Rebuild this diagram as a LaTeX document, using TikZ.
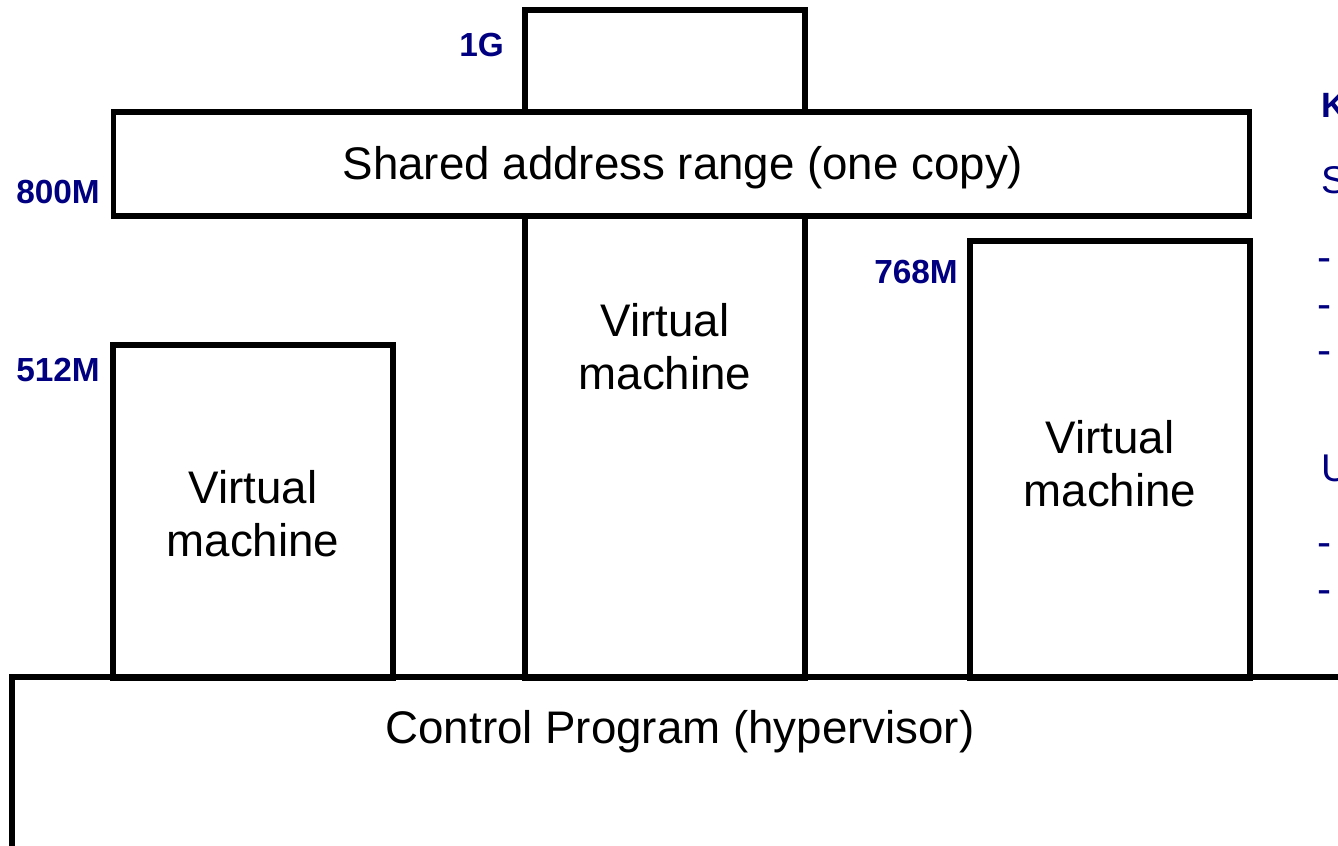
\documentclass[tikz,border=0pt]{standalone}
\usepackage{fontspec}
\setmainfont{Liberation Sans}
\definecolor{navy}{RGB}{0,0,128}
\begin{document}
\begin{tikzpicture}[x=0.02cm,y=-0.02cm,
  box/.style={draw, line width=2.9pt, inner sep=0pt},
  big/.style={font=\fontsize{26}{30}\selectfont, align=center},
  addr/.style={font=\fontsize{19}{22}\selectfont\bfseries, text=navy, anchor=east},
  note/.style={font=\fontsize{22}{26}\selectfont, text=navy, anchor=west, inner sep=0pt}]
\useasboundingbox (0,0) rectangle (1338,845);
\clip (0,0) rectangle (1338,845);

% Control program (runs off the page)
\coordinate (cpr) at (1400,677);
\coordinate (cptl) at (12,677);
\coordinate (cpb) at (12,900);
\draw[line width=2.9pt] (cpr) -- (cptl) -- (cpb);
\node[big] (cp) at (680,732) {Control Program (hypervisor)};

% Memory boxes
\node[box, minimum width=22.74cm, minimum height=2.08cm] (shared) at (681.5,164) {};
\node[box, minimum width=5.6cm, minimum height=2.04cm] (top) at (665,61) {};
\node[box, minimum width=5.6cm, minimum height=9.24cm] (vm2) at (665,447) {};
\node[box, minimum width=5.6cm, minimum height=6.66cm] (vm1) at (253,511.5) {};
\node[box, minimum width=5.6cm, minimum height=8.74cm] (vm3) at (1110,459.5) {};

% Box texts
\node[big] (sharedtxt) at (683,168) {Shared address range (one copy)};
\node[big] (vm1txt) at (253,514) {Virtual\\machine};
\node[big] (vm2txt) at (665,347) {Virtual\\machine};
\node[big] (vm3txt) at (1110,464) {Virtual\\machine};

% Address labels
\node[addr] (a1g) at (510,45) {1G};
\node[addr] (a800) at (106,192) {800M};
\node[addr] (a512) at (106,370) {512M};
\node[addr] (a768) at (964,272) {768M};

% Notes (cut off at the right edge)
\node[note, font=\fontsize{20}{24}\selectfont\bfseries] (nk) at (1321,105) {K};
\node[note] (ns) at (1321,180) {S};
\node[note, font=\fontsize{24}{26}\selectfont] (ns1) at (1317,265) {-};
\node[note, font=\fontsize{24}{26}\selectfont] (ns2) at (1317,312) {-};
\node[note, font=\fontsize{24}{26}\selectfont] (ns3) at (1317,358) {-};
\node[note] (nu) at (1321,468) {U};
\node[note, font=\fontsize{24}{26}\selectfont] (nu1) at (1317,550) {-};
\node[note, font=\fontsize{24}{26}\selectfont] (nu2) at (1317,597) {-};
\end{tikzpicture}
\end{document}
